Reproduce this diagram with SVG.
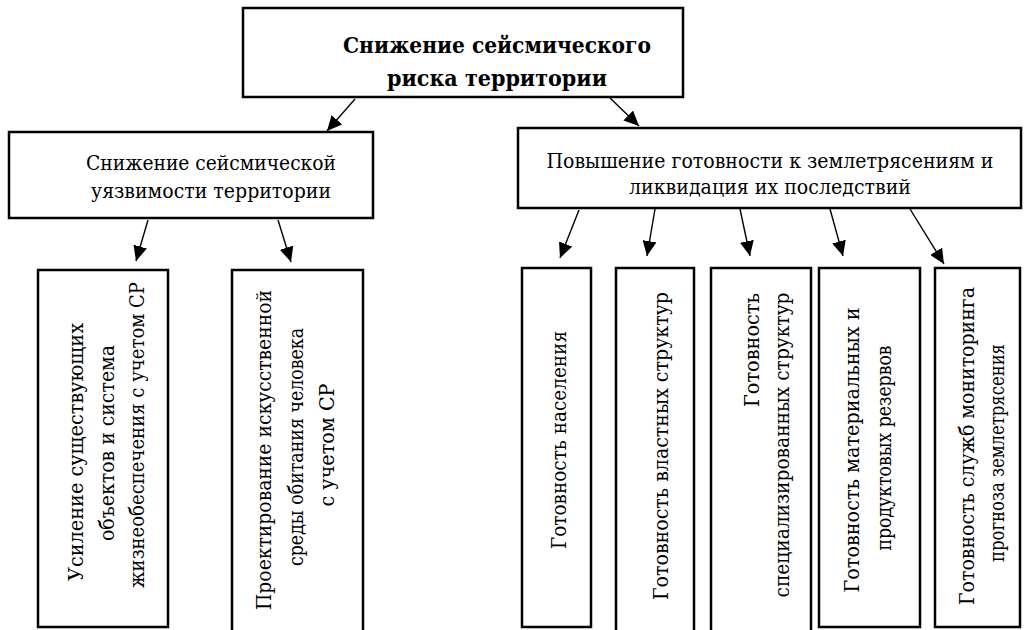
<svg xmlns="http://www.w3.org/2000/svg" width="1024" height="630" viewBox="0 0 1024 630">
<style>
.box{fill:#fff;stroke:#000;stroke-width:2.5}
.t{font-family:'DejaVu Serif','Liberation Serif',serif;font-size:20px;fill:#000;text-anchor:middle}
.tb{font-family:'DejaVu Serif','Liberation Serif',serif;font-size:22px;font-weight:bold;fill:#000;text-anchor:middle}
.c{stroke:#000;stroke-width:1.4;fill:none;marker-end:url(#ah)}
</style>
<defs>
<marker id="ah" markerUnits="userSpaceOnUse" markerWidth="16" markerHeight="14" refX="15" refY="7" orient="auto">
<path d="M0,0 L15,7 L0,14 z" fill="#000"/>
</marker>
</defs>
<rect width="1024" height="630" fill="#fff"/>
<g id="connectors">
<line class="c" x1="355" y1="99" x2="327" y2="131"/>
<line class="c" x1="610" y1="98" x2="639" y2="126"/>
<line class="c" x1="148" y1="220" x2="136" y2="261"/>
<line class="c" x1="278" y1="220" x2="291" y2="262"/>
<line class="c" x1="579" y1="210" x2="560" y2="258"/>
<line class="c" x1="655" y1="209" x2="647" y2="256"/>
<line class="c" x1="740" y1="209" x2="750" y2="256"/>
<line class="c" x1="830" y1="209" x2="843" y2="256"/>
<line class="c" x1="910" y1="209" x2="944" y2="264"/>
</g>
<g id="root">
<rect class="box" x="243" y="8" width="440" height="89"/>
<text class="tb" x="497" y="53" textLength="308" lengthAdjust="spacingAndGlyphs">Снижение сейсмического</text>
<text class="tb" x="497" y="86" textLength="220" lengthAdjust="spacingAndGlyphs">риска территории</text>
</g>
<g id="vuln">
<rect class="box" x="9" y="132" width="364" height="86"/>
<text class="t" x="211" y="170" textLength="250" lengthAdjust="spacingAndGlyphs">Снижение сейсмической</text>
<text class="t" x="211" y="198" textLength="240" lengthAdjust="spacingAndGlyphs">уязвимости территории</text>
</g>
<g id="ready">
<rect class="box" x="518" y="128" width="503" height="80"/>
<text class="t" x="770" y="168" textLength="447" lengthAdjust="spacingAndGlyphs">Повышение готовности к землетрясениям и</text>
<text class="t" x="770" y="194" textLength="282" lengthAdjust="spacingAndGlyphs">ликвидация их последствий</text>
</g>
<g id="strengthen">
<rect class="box" x="38" y="270" width="130" height="357"/>
<text class="t" transform="translate(83,452) rotate(-90)" textLength="258" lengthAdjust="spacingAndGlyphs">Усиление существующих</text>
<text class="t" transform="translate(114,443) rotate(-90)" textLength="196" lengthAdjust="spacingAndGlyphs">объектов и система</text>
<text class="t" transform="translate(144,435) rotate(-90)" textLength="306" lengthAdjust="spacingAndGlyphs">жизнеобеспечения с учетом СР</text>
</g>
<g id="design">
<rect class="box" x="232" y="270" width="131" height="364"/>
<text class="t" transform="translate(271,450) rotate(-90)" textLength="320" lengthAdjust="spacingAndGlyphs">Проектирование искусственной</text>
<text class="t" transform="translate(303,447) rotate(-90)" textLength="238" lengthAdjust="spacingAndGlyphs">среды обитания человека</text>
<text class="t" transform="translate(334,445) rotate(-90)" textLength="123" lengthAdjust="spacingAndGlyphs">с учетом СР</text>
</g>
<g id="population">
<rect class="box" x="522" y="268" width="69" height="359"/>
<text class="t" transform="translate(566,440) rotate(-90)" textLength="218" lengthAdjust="spacingAndGlyphs">Готовность населения</text>
</g>
<g id="authorities">
<rect class="box" x="616" y="268" width="78" height="366"/>
<text class="t" transform="translate(668,446) rotate(-90)" textLength="308" lengthAdjust="spacingAndGlyphs">Готовность властных структур</text>
</g>
<g id="special">
<rect class="box" x="711" y="268" width="100" height="366"/>
<text class="t" transform="translate(759,350) rotate(-90)" textLength="114" lengthAdjust="spacingAndGlyphs">Готовность</text>
<text class="t" transform="translate(789,445) rotate(-90)" textLength="305" lengthAdjust="spacingAndGlyphs">специализированных структур</text>
</g>
<g id="reserves">
<rect class="box" x="819" y="268" width="101" height="359"/>
<text class="t" transform="translate(859,450) rotate(-90)" textLength="285" lengthAdjust="spacingAndGlyphs">Готовность материальных и</text>
<text class="t" transform="translate(891,448) rotate(-90)" textLength="205" lengthAdjust="spacingAndGlyphs">продуктовых резервов</text>
</g>
<g id="monitoring">
<rect class="box" x="935" y="268" width="85" height="359"/>
<text class="t" transform="translate(974,446) rotate(-90)" textLength="318" lengthAdjust="spacingAndGlyphs">Готовность служб мониторинга</text>
<text class="t" transform="translate(1004,453) rotate(-90)" textLength="218" lengthAdjust="spacingAndGlyphs">прогноза землетрясения</text>
</g>
</svg>
